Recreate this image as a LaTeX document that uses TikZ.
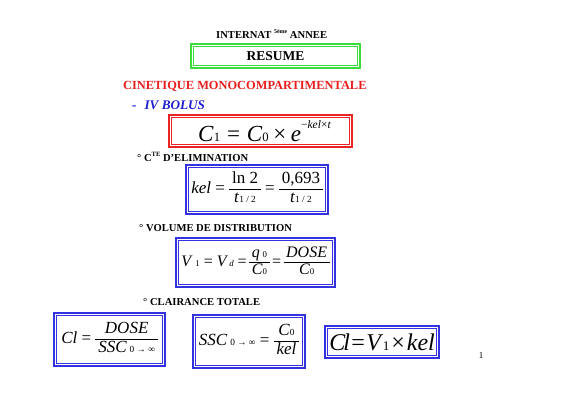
\documentclass[tikz,border=0pt]{standalone}
\usepackage{fontspec}
\setmainfont{Liberation Serif}
\usepackage{array}
\definecolor{bgreen}{RGB}{60,220,60}
\definecolor{bred}{RGB}{235,35,35}
\definecolor{bblue}{RGB}{50,50,225}
\definecolor{tred}{RGB}{230,30,30}
\definecolor{tblue}{RGB}{30,30,210}
\newcommand{\fr}[2]{\renewcommand{\arraystretch}{1.05}\setlength{\arrayrulewidth}{0.7pt}\begin{tabular}{@{\,}c@{\,}}#1\\\hline #2\end{tabular}}
\newcommand{\sub}[1]{{\fontsize{0.55em}{1em}\selectfont #1}}
\newcommand{\tfs}[1]{\fontsize{#1}{#1}\selectfont}
\begin{document}
\begin{tikzpicture}[x=1pt,y=-1pt,
  lbl/.style={inner sep=0pt,font=\bfseries\tfs{10.6}},
  boxn/.style={draw=#1,line width=2.2pt,inner sep=0pt,anchor=north west},
  inner/.style={draw=#1,line width=0.9pt}]
\useasboundingbox (0,0) rectangle (566,400);
\node[lbl,anchor=west] (hdr) at (216,34) {INTERNAT \raisebox{0.45em}{\tfs{6}5ème} ANNEE};
% RESUME
\node[boxn=bgreen,minimum width=169pt,minimum height=24pt] (res) at (190,43) {\bfseries\tfs{13.5}RESUME};
\draw[inner=bgreen] ([xshift=3.5pt,yshift=-3.5pt]res.north west) rectangle ([xshift=-3.5pt,yshift=3.5pt]res.south east);
\node[inner sep=0pt,anchor=west,text=tred,font=\bfseries\tfs{12.4}] (cin) at (123,86) {CINETIQUE MONOCOMPARTIMENTALE};
\node[inner sep=0pt,anchor=west,text=tblue,font=\bfseries\itshape\tfs{13.2}] (iv) at (132,105) {-\hspace{0.6em}IV BOLUS};
% red box
\node[boxn=bred,minimum width=183pt,minimum height=32pt] (rb) at (168,114)
  {\hspace{8pt}\tfs{23}\textit{C}\sub{1}\hspace{0.3em}=\hspace{0.3em}\textit{C}\sub{0}\hspace{0.2em}×\hspace{0.2em}\textit{e}\raisebox{0.55em}{\tfs{11.5}−\textit{kel}×\textit{t}}};
\draw[inner=bred] ([xshift=3.5pt,yshift=-3.5pt]rb.north west) rectangle ([xshift=-3.5pt,yshift=3.5pt]rb.south east);
\node[lbl,anchor=west] (cte) at (137,157) {° C\raisebox{0.4em}{\tfs{6.5}TE} D’ELIMINATION};
% kel box
\node[boxn=bblue,minimum width=142pt,minimum height=49pt] (kb) at (185,164)
  {\tfs{17}\textit{kel} = \fr{ln 2}{\textit{t}\sub{1 / 2}} = \fr{0,693}{\textit{t}\sub{1 / 2}}};
\draw[inner=bblue] ([xshift=3.5pt,yshift=-3.5pt]kb.north west) rectangle ([xshift=-3.5pt,yshift=3.5pt]kb.south east);
\node[lbl,anchor=west] (vol) at (139,228) {° VOLUME DE DISTRIBUTION};
% V box
\node[boxn=bblue,minimum width=159pt,minimum height=49pt] (vb) at (175,237)
  {\tfs{16}\textit{V}\,\sub{1}\kern0.25em=\kern0.25em\textit{V\,}\sub{\textit{d}}\kern0.25em=\kern0.15em\fr{\textit{q}\,\sub{0}}{\textit{C}\sub{0}}\kern0.15em=\kern0.15em\fr{\textit{DOSE}}{\textit{C}\sub{0}}};
\draw[inner=bblue] ([xshift=3.5pt,yshift=-3.5pt]vb.north west) rectangle ([xshift=-3.5pt,yshift=3.5pt]vb.south east);
\node[lbl,anchor=west] (cla) at (143,302) {° CLAIRANCE TOTALE};
% bottom left
\node[boxn=bblue,minimum width=111pt,minimum height=53pt] (lb) at (53,312)
  {\tfs{17}\textit{Cl} = \fr{\textit{DOSE}}{\textit{SSC}\,\sub{0 → ∞}}};
\draw[inner=bblue] ([xshift=3.5pt,yshift=-3.5pt]lb.north west) rectangle ([xshift=-3.5pt,yshift=3.5pt]lb.south east);
% bottom middle
\node[boxn=bblue,minimum width=112pt,minimum height=53pt] (mb) at (192,314)
  {\tfs{17}\textit{SSC}\,\sub{0 → ∞} = \fr{\textit{C}\sub{0}}{\textit{kel}}};
\draw[inner=bblue] ([xshift=3.5pt,yshift=-3.5pt]mb.north west) rectangle ([xshift=-3.5pt,yshift=3.5pt]mb.south east);
% bottom right
\node[boxn=bblue,minimum width=114pt,minimum height=32pt] (rrb) at (324,325)
  {\tfs{24}\textit{C\kern-0.08em l}\kern0.06em=\kern0.06em\textit{V}\kern-0.02em\sub{1}\kern0.08em×\kern0.08em\textit{kel}};
\draw[inner=bblue] ([xshift=3.5pt,yshift=-3.5pt]rrb.north west) rectangle ([xshift=-3.5pt,yshift=3.5pt]rrb.south east);
\node[inner sep=0pt,font=\tfs{9}] (pg) at (481,356) {1};
\end{tikzpicture}
\end{document}
